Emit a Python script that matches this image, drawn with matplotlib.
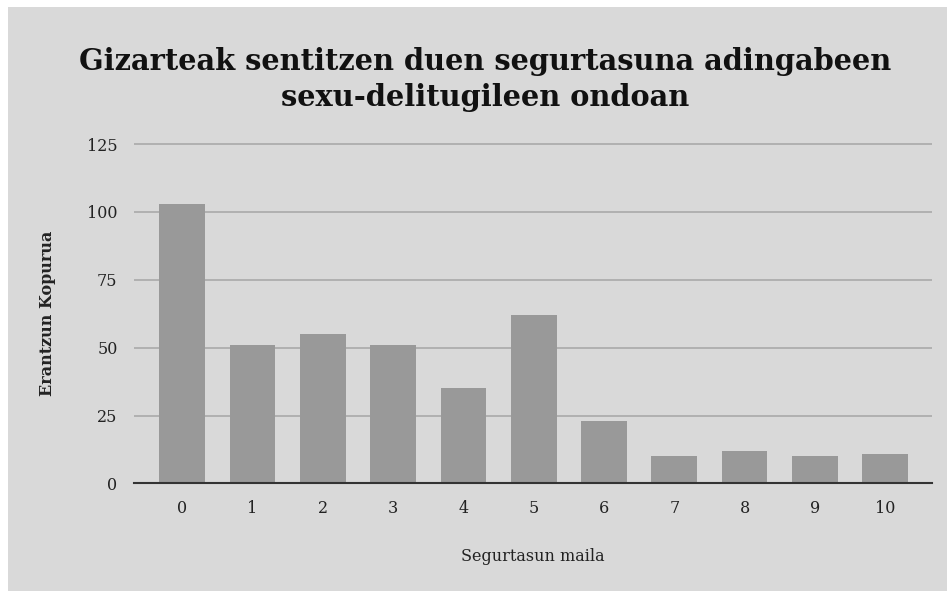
import matplotlib.pyplot as plt
from matplotlib.patches import Rectangle

# Survey answers per safety level
levels = [str(i) for i in range(11)]
counts = [103, 51, 55, 51, 35, 62, 23, 10, 12, 10, 11]
yticks = [0, 25, 50, 75, 100, 125]

plt.rcParams['font.family'] = ['DejaVu Serif']

fig = plt.figure(figsize=(9.47, 5.91), dpi=100)
fig.patch.set_facecolor('white')
# grey chart card with a thin white margin on the top/left
fig.patches.append(Rectangle((8 / 947, 0), 1, 1 - 7 / 591, transform=fig.transFigure,
                             facecolor='#d9d9d9', edgecolor='none', zorder=-5))

ax = fig.add_axes([0.1418, 0.1819, 0.9838 - 0.1418, 0.758 - 0.1819])
ax.set_facecolor('none')

x = range(len(levels))
ax.bar(x, counts, width=0.65, color='#999999', zorder=3)

ax.set_xlim(-0.68, 10.66)
ax.set_ylim(0, 125.4)
ax.set_yticks(yticks)
ax.set_xticks(list(x))
ax.set_xticklabels(levels)
ax.grid(axis='y', color='#aaaaaa', linewidth=1.2, zorder=1)
for s in ['top', 'right', 'left']:
    ax.spines[s].set_visible(False)
ax.spines['bottom'].set_color('#333333')
ax.spines['bottom'].set_linewidth(1.5)
ax.spines['bottom'].set_zorder(4)
ax.tick_params(axis='both', length=0, labelsize=11.5, colors='#222222', pad=12)
ax.tick_params(axis='y', pad=12)

ax.set_xlabel('Segurtasun maila', fontsize=11.5, color='#222222', labelpad=22)
ax.set_ylabel('Erantzun Kopurua', fontsize=11.5, fontweight='bold', color='#222222', labelpad=22)

fig.text(0.512, 0.865, 'Gizarteak sentitzen duen segurtasuna adingabeen\nsexu-delitugileen ondoan',
         ha='center', va='center', fontsize=20.8, fontweight='bold', color='#111111',
         linespacing=1.3)

fig.savefig('out.png', dpi=100)
